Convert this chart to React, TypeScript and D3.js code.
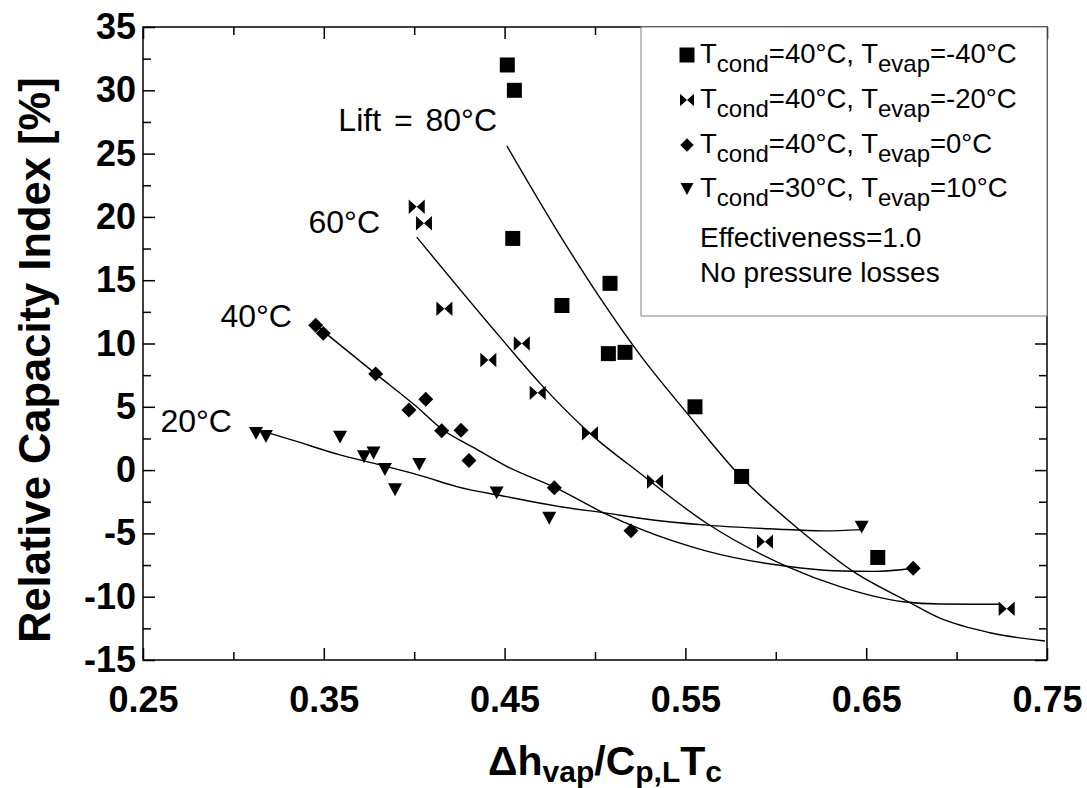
import React, { useEffect, useRef } from 'react';
import * as d3 from 'd3';

// Tcond=40°C, Tevap=-40°C  (squares)
const sqX = [0.4515, 0.4554, 0.4545, 0.5083, 0.4817, 0.5074, 0.5166, 0.5553, 0.5811, 0.6564];
const sqY = [32.0, 30.0, 18.3, 14.75, 13.0, 9.2, 9.3, 5.0, -0.5, -6.9];
// Tcond=40°C, Tevap=-20°C  (bowties)
const bwX = [0.4014, 0.4054, 0.4167, 0.441, 0.4595, 0.4683, 0.4972, 0.5332, 0.594, 0.7277];
const bwY = [20.8, 19.5, 12.75, 8.7, 10.0, 6.1, 2.9, -0.9, -5.65, -10.95];
// Tcond=40°C, Tevap=0°C  (diamonds)
const dmX = [0.3455, 0.3497, 0.3787, 0.3971, 0.4064, 0.4152, 0.4259, 0.4303, 0.4775, 0.5199, 0.676];
const dmY = [11.45, 10.8, 7.6, 4.75, 5.6, 3.1, 3.15, 0.75, -1.4, -4.8, -7.75];
// Tcond=30°C, Tevap=10°C  (down triangles)
const trX = [0.3125, 0.318, 0.359, 0.3722, 0.3775, 0.3838, 0.3894, 0.4028, 0.4456, 0.4747, 0.6475];
const trY = [2.9, 2.65, 2.6, 1.05, 1.35, 0.05, -1.55, 0.45, -1.8, -3.8, -4.5];

// fitted curves
const lift80X = [0.4513, 0.4806, 0.5028, 0.5249, 0.5503, 0.5808, 0.6134, 0.6438, 0.672, 0.6908, 0.7185, 0.7489];
const lift80Y = [25.6, 18.55, 13.6, 9.1, 4.6, -0.55, -4.75, -8.1, -10.3, -11.7, -12.85, -13.5];
const lift60X = [0.4014, 0.4475, 0.4696, 0.4972, 0.5249, 0.5618, 0.606, 0.6355, 0.6705, 0.6908, 0.724];
const lift60Y = [18.4, 10.5, 6.85, 2.9, -0.25, -4.2, -7.6, -9.2, -10.4, -10.58, -10.6];
const lift40X = [0.3455, 0.3787, 0.4014, 0.4152, 0.4327, 0.4511, 0.4775, 0.5065, 0.5249, 0.5618, 0.606, 0.6318, 0.6545, 0.676];
const lift40Y = [11.45, 7.6, 5.0, 3.25, 1.8, 0.3, -1.35, -3.5, -4.65, -6.4, -7.6, -7.95, -8.0, -7.75];
const lift20X = [0.318, 0.3331, 0.359, 0.3774, 0.405, 0.4235, 0.4511, 0.4788, 0.5065, 0.5249, 0.5618, 0.5987, 0.6263, 0.6475];
const lift20Y = [3.0, 2.35, 1.2, 0.55, -0.5, -1.3, -2.1, -2.85, -3.4, -3.8, -4.35, -4.65, -4.8, -4.7];

const liftLabels = ['Lift = 80°C', '60°C', '40°C', '20°C'];
const liftLabelX = [0.4458, 0.3811, 0.3324, 0.2992];
const liftLabelY = [26.76, 18.71, 11.29, 3.0];

// axis ticks
const xMajor = [0.25, 0.35, 0.45, 0.55, 0.65, 0.75];
const xMinor = [0.3, 0.4, 0.5, 0.6, 0.7];
const yMajor = [-15, -10, -5, 0, 5, 10, 15, 20, 25, 30, 35];
const yMinor = [-12.5, -7.5, -2.5, 2.5, 7.5, 12.5, 17.5, 22.5, 27.5, 32.5];

const legendTcond = ['40°C', '40°C', '40°C', '30°C'];
const legendTevap = ['-40°C', '-20°C', '0°C', '10°C'];
const legendNotes = ['Effectiveness=1.0', 'No pressure losses'];

const FONT = 'Liberation Sans, Arial, Helvetica, sans-serif';

// custom marker shapes for d3.symbol
const bowtie = {
  draw(ctx: any, size: number) {
    const w = Math.sqrt(size) / 2, h = w * 0.9;
    ctx.moveTo(-w, -h); ctx.lineTo(0, 0); ctx.lineTo(-w, h); ctx.closePath();
    ctx.moveTo(w, -h); ctx.lineTo(0, 0); ctx.lineTo(w, h); ctx.closePath();
  }
};
const triDown = {
  draw(ctx: any, size: number) {
    const w = Math.sqrt(size) / 2, h = w * 0.92;
    ctx.moveTo(-w, -h); ctx.lineTo(w, -h); ctx.lineTo(0, h); ctx.closePath();
  }
};

export default function App() {
  const ref = useRef<SVGSVGElement>(null);

  useEffect(() => {
    const svg = d3.select(ref.current);
    svg.selectAll('*').remove();

    const margin = { top: 27, right: 40, bottom: 128, left: 143 };
    const W = 1087, H = 788;
    const x = d3.scaleLinear().domain([0.25, 0.75]).range([margin.left, W - margin.right]);
    const y = d3.scaleLinear().domain([-15, 35]).range([H - margin.bottom, margin.top]);

    const major = 12, minor = 8;
    const styleAxis = (g: any) => {
      g.select('.domain').remove();
      g.selectAll('line').attr('stroke', '#000').attr('stroke-width', 1.5);
      g.attr('font-family', FONT).attr('font-size', 36).attr('font-weight', 'bold');
      g.selectAll('text').attr('fill', '#000');
    };

    // bottom / left with labels
    svg.append('g').attr('transform', `translate(0,${y(-15)})`)
      .call(d3.axisBottom(x).tickValues(xMajor).tickSize(-major).tickPadding(26).tickFormat(d3.format('.2f')))
      .call(styleAxis);
    svg.append('g').attr('transform', `translate(0,${y(-15)})`)
      .call(d3.axisBottom(x).tickValues(xMinor).tickSize(-minor).tickFormat(() => ''))
      .call(styleAxis);
    svg.append('g').attr('transform', `translate(${x(0.25)},0)`)
      .call(d3.axisLeft(y).tickValues(yMajor).tickSize(-major).tickPadding(7).tickFormat(d => String(d)))
      .call(styleAxis);
    svg.append('g').attr('transform', `translate(${x(0.25)},0)`)
      .call(d3.axisLeft(y).tickValues(yMinor).tickSize(-minor).tickFormat(() => ''))
      .call(styleAxis);
    // top / right, ticks only
    svg.append('g').attr('transform', `translate(0,${y(35)})`)
      .call(d3.axisTop(x).tickValues(xMajor).tickSize(-major).tickFormat(() => ''))
      .call(styleAxis);
    svg.append('g').attr('transform', `translate(0,${y(35)})`)
      .call(d3.axisTop(x).tickValues(xMinor).tickSize(-minor).tickFormat(() => ''))
      .call(styleAxis);
    svg.append('g').attr('transform', `translate(${x(0.75)},0)`)
      .call(d3.axisRight(y).tickValues(yMajor).tickSize(-major).tickFormat(() => ''))
      .call(styleAxis);
    svg.append('g').attr('transform', `translate(${x(0.75)},0)`)
      .call(d3.axisRight(y).tickValues(yMinor).tickSize(-minor).tickFormat(() => ''))
      .call(styleAxis);

    // frame
    svg.append('rect')
      .attr('x', x(0.25)).attr('y', y(35))
      .attr('width', x(0.75) - x(0.25)).attr('height', y(-15) - y(35))
      .attr('fill', 'none').attr('stroke', '#000').attr('stroke-width', 1.5);

    // axis titles
    svg.append('text')
      .attr('transform', `translate(50,643) rotate(-90)`)
      .attr('text-anchor', 'start')
      .attr('font-family', FONT).attr('font-size', 43.5).attr('font-weight', 'bold')
      .text('Relative Capacity Index [%]');

    const xt = svg.append('text')
      .attr('x', (x(0.25) + x(0.75)) / 2 + 10).attr('y', 775)
      .attr('text-anchor', 'middle')
      .attr('font-family', FONT).attr('font-size', 41).attr('font-weight', 'bold');
    const sub = 7;
    xt.append('tspan').text('Δh');
    xt.append('tspan').attr('font-size', 30).attr('dy', sub).text('vap');
    xt.append('tspan').attr('dy', -sub).text('/C');
    xt.append('tspan').attr('font-size', 30).attr('dy', sub).text('p,L');
    xt.append('tspan').attr('dy', -sub).text('T');
    xt.append('tspan').attr('font-size', 30).attr('dy', sub).text('c');

    // legend box
    const lg = svg.append('g');
    lg.append('rect')
      .attr('x', 641).attr('y', y(35))
      .attr('width', x(0.75) - 641).attr('height', 316 - y(35))
      .attr('fill', '#fff').attr('stroke', '#808080').attr('stroke-width', 1);

    // curves
    const line = d3.line<[number, number]>()
      .x(d => x(d[0])).y(d => y(d[1]))
      .curve(d3.curveMonotoneX);
    const curves = [
      d3.zip(lift80X, lift80Y), d3.zip(lift60X, lift60Y),
      d3.zip(lift40X, lift40Y), d3.zip(lift20X, lift20Y)
    ] as [number, number][][];
    svg.append('g').selectAll('path').data(curves).join('path')
      .attr('d', d => line(d))
      .attr('fill', 'none').attr('stroke', '#000').attr('stroke-width', 1.4);

    // markers
    const series = [
      { xs: sqX, ys: sqY, sym: d3.symbol(d3.symbolSquare, 225), rot: 0 },
      { xs: bwX, ys: bwY, sym: d3.symbol(bowtie as any, 256), rot: 0 },
      { xs: dmX, ys: dmY, sym: d3.symbol(d3.symbolSquare, 112), rot: 45 },
      { xs: trX, ys: trY, sym: d3.symbol(triDown as any, 196), rot: 0 }
    ];
    series.forEach(s => {
      svg.append('g').selectAll('path').data(d3.zip(s.xs, s.ys)).join('path')
        .attr('transform', d => `translate(${x(d[0])},${y(d[1])}) rotate(${s.rot})`)
        .attr('d', s.sym() as string)
        .attr('fill', '#000');
    });

    // lift labels
    svg.append('g').selectAll('text').data(liftLabels).join('text')
      .attr('x', (d, i) => x(liftLabelX[i])).attr('y', (d, i) => y(liftLabelY[i]))
      .attr('text-anchor', 'end')
      .attr('font-family', FONT).attr('font-size', 32)
      .attr('word-spacing', 4)
      .text(d => d);

    // legend entries
    const rowY = [63, 108, 153, 197];
    const legSyms = [
      { sym: d3.symbol(d3.symbolSquare, 225), rot: 0 },
      { sym: d3.symbol(bowtie as any, 196), rot: 0 },
      { sym: d3.symbol(d3.symbolSquare, 90), rot: 45 },
      { sym: d3.symbol(triDown as any, 169), rot: 0 }
    ];
    legendTcond.forEach((tc, i) => {
      lg.append('path')
        .attr('transform', `translate(687,${rowY[i] - 8}) rotate(${legSyms[i].rot})`)
        .attr('d', legSyms[i].sym() as string).attr('fill', '#000');
      const t = lg.append('text').attr('x', 700).attr('y', rowY[i])
        .attr('font-family', FONT).attr('font-size', 27.5);
      t.append('tspan').text('T');
      t.append('tspan').attr('font-size', 24).attr('dy', 9).text('cond');
      t.append('tspan').attr('dy', -9).text(`=${tc}, T`);
      t.append('tspan').attr('font-size', 24).attr('dy', 9).text('evap');
      t.append('tspan').attr('dy', -9).text(`=${legendTevap[i]}`);
    });
    lg.selectAll('text.note').data(legendNotes).join('text')
      .attr('class', 'note')
      .attr('x', 700).attr('y', (d, i) => [247, 282][i])
      .attr('font-family', FONT).attr('font-size', 28)
      .text(d => d);
  }, []);

  return (
    <svg ref={ref} width={1087} height={788}
      style={{ position: 'absolute', left: 0, top: 0, background: '#fff' }} />
  );
}
